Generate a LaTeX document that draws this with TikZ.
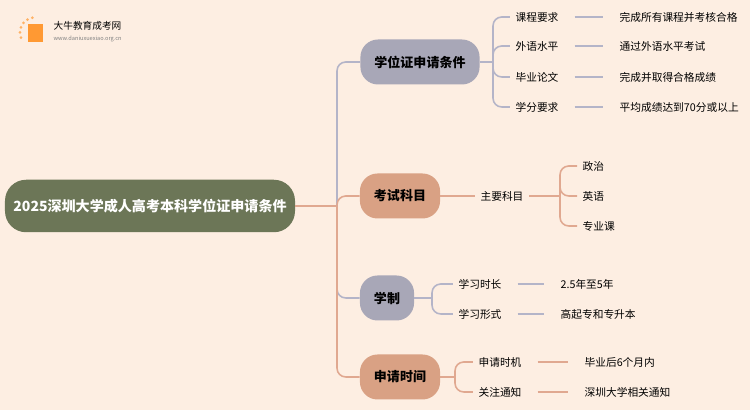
\documentclass[tikz,border=0pt]{standalone}
\usepackage{fontspec}
\setmainfont{Noto Sans CJK SC}
\usetikzlibrary{positioning}
\definecolor{bgcol}{HTML}{FDEEE2}
\definecolor{rootcol}{HTML}{6C7657}
\definecolor{graycol}{HTML}{A8A7B7}
\definecolor{salmcol}{HTML}{D9A184}
\definecolor{linecol}{HTML}{B4B4C8}
\definecolor{orlinecol}{HTML}{E0A890}
\tikzset{%
  % Specifications for style of nodes:
   rootbox/.style = {rectangle, rounded corners=12pt, fill=rootcol,
                  minimum width=5.8cm, minimum height=1.05cm,
                  text=white, font=\fontsize{8}{10}\selectfont\bfseries},
   branch/.style = {rectangle, rounded corners=10pt,
                  minimum height=0.9cm, inner xsep=8pt,
                  font=\fontsize{7.4}{9}\selectfont\bfseries},
   graybranch/.style = {branch, fill=graycol},
   salmbranch/.style = {branch, fill=salmcol},
   leaf/.style = {inner sep=3pt, font=\fontsize{6.1}{8}\selectfont},
   value/.style = {leaf, anchor=west},
  % Specifications for style of lines:
   link/.style = {line width=0.9pt, linecol, rounded corners=5pt},
   orlink/.style = {link, orlinecol},
}
\begin{document}
\begin{tikzpicture}
  \fill[bgcol] (0,0) rectangle (15,8.2);
  \useasboundingbox (0,0) rectangle (15,8.2);

  % Logo
  \fill[orange!80] (0.55,7.35) rectangle (0.85,7.72);
  \foreach \a in {100,120,...,200} \fill[orange!60] (0.7,7.55) ++(\a:0.3) circle (0.03);
  \node (logo_title) [anchor=west, font=\fontsize{5.5}{6}\selectfont] at (0.95,7.68) {大牛教育成考网};
  \node (logo_url) [anchor=west, font=\fontsize{3.2}{4}\selectfont, gray] at (0.95,7.42) {www.daniuxuexiao.org.cn};

  % Nodes
  \node (root) [rootbox] at (3.0,4.08) {2025深圳大学成人高考本科学位证申请条件};
  \node (cond) [graybranch] at (8.4,6.96) {学位证申请条件};
  \node (exam) [salmbranch] at (8.0,4.28) {考试科目};
  \node (sys)  [graybranch] at (7.74,2.24) {学制};
  \node (time) [salmbranch] at (8.0,0.66) {申请时间};

  \draw[orlink] (root.east) -- (6.74,4.08) coordinate (trunk);
  \draw[link] (trunk) |- (cond.west);
  \draw[orlink] (trunk) |- (exam.west);
  \draw[link] (trunk) |- (sys.west);
  \draw[orlink] (trunk) |- (time.west);

  % Branch 1
  \node (c1) [leaf] at (10.74,7.86) {课程要求};
  \node (c2) [leaf] at (10.74,7.28) {外语水平};
  \node (c3) [leaf] at (10.74,6.66) {毕业论文};
  \node (c4) [leaf] at (10.74,6.06) {学分要求};
  \draw[link] (cond.east) -- (9.86,6.96) coordinate (cj);
  \foreach \l in {c1,c2,c3,c4} \draw[link] (cj) |- (\l.west);
  \node (v1) [value] at (12.28,7.86) {完成所有课程并考核合格};
  \node (v2) [value] at (12.28,7.28) {通过外语水平考试};
  \node (v3) [value] at (12.28,6.66) {完成并取得合格成绩};
  \node (v4) [value] at (12.28,6.06) {平均成绩达到70分或以上};
  \foreach \l/\v in {c1/v1,c2/v2,c3/v3,c4/v4} \draw[link] ([xshift=6pt]\l.east) -- ([xshift=-6pt]\v.west);

  % Branch 2
  \node (e1) [leaf] at (10.04,4.28) {主要科目};
  \draw[orlink] (exam.east) -- (e1.west);
  \node (s1) [value] at (11.54,4.88) {政治};
  \node (s2) [value] at (11.54,4.28) {英语};
  \node (s3) [value] at (11.54,3.68) {专业课};
  \draw[orlink] (e1.east) -- (11.2,4.28) coordinate (ej);
  \foreach \l in {s1,s2,s3} \draw[orlink] (ej) |- (\l.west);

  % Branch 3
  \node (y1) [leaf] at (9.6,2.52) {学习时长};
  \node (y2) [leaf] at (9.6,1.92) {学习形式};
  \draw[link] (sys.east) -- (8.64,2.24) coordinate (yj);
  \foreach \l in {y1,y2} \draw[link] (yj) |- (\l.west);
  \node (w1) [value] at (11.1,2.52) {2.5年至5年};
  \node (w2) [value] at (11.1,1.92) {高起专和专升本};
  \foreach \l/\v in {y1/w1,y2/w2} \draw[link] ([xshift=6pt]\l.east) -- ([xshift=-6pt]\v.west);

  % Branch 4
  \node (t1) [leaf] at (10.0,0.96) {申请时机};
  \node (t2) [leaf] at (10.0,0.36) {关注通知};
  \draw[orlink] (time.east) -- (9.1,0.66) coordinate (tj);
  \foreach \l in {t1,t2} \draw[orlink] (tj) |- (\l.west);
  \node (u1) [value] at (11.58,0.96) {毕业后6个月内};
  \node (u2) [value] at (11.58,0.36) {深圳大学相关通知};
  \foreach \l/\v in {t1/u1,t2/u2} \draw[orlink] ([xshift=6pt]\l.east) -- ([xshift=-6pt]\v.west);
\end{tikzpicture}
\end{document}
